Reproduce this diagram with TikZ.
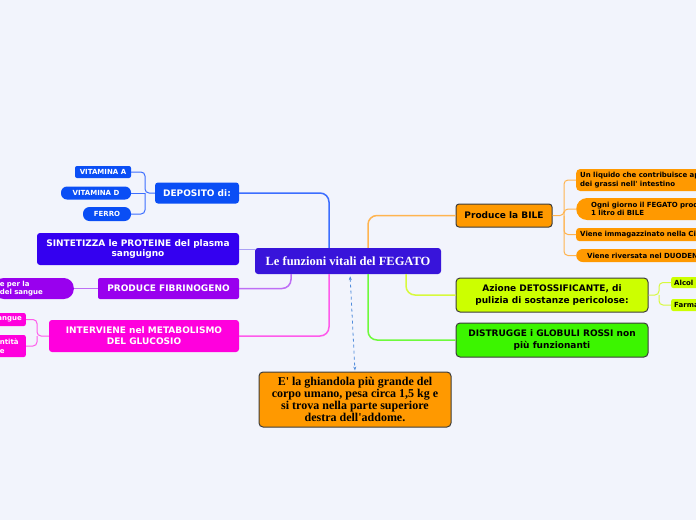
\documentclass[tikz,border=0pt]{standalone}
\usepackage{fontspec}
\usetikzlibrary{arrows.meta}
\newfontfamily\mapsans{DejaVu Sans}
\newfontfamily\mapserif{Liberation Serif}
\definecolor{bgpage}{RGB}{242,244,252}
\definecolor{rootblue}{RGB}{56,20,218}
\definecolor{depblue}{RGB}{10,78,245}
\definecolor{protviolet}{RGB}{52,0,240}
\definecolor{fibpurple}{RGB}{153,0,238}
\definecolor{glumag}{RGB}{255,0,221}
\definecolor{bileorange}{RGB}{255,153,0}
\definecolor{detoxlime}{RGB}{204,255,0}
\definecolor{cellgreen}{RGB}{60,245,0}
\definecolor{edgegray}{RGB}{60,60,60}
\definecolor{linkblue}{RGB}{60,110,255}
\definecolor{linkviolet}{RGB}{170,160,245}
\definecolor{linkpurple}{RGB}{190,110,245}
\definecolor{linkmagenta}{RGB}{255,90,235}
\definecolor{linkorange}{RGB}{255,180,80}
\definecolor{linklime}{RGB}{215,250,60}
\definecolor{linkgreen}{RGB}{110,250,60}
\definecolor{linkdash}{RGB}{80,140,220}
\begin{document}
\begin{tikzpicture}[x=1pt,y=-1pt,
  topic/.style={rounded corners=3pt, align=center, inner sep=2pt, font=\mapsans\bfseries\fontsize{9}{11}\selectfont},
  leaf/.style={rounded corners=2pt, inner sep=2pt, font=\mapsans\bfseries\fontsize{7}{8.5}\selectfont},
  framed/.style={draw=edgegray, line width=1pt},
  link/.style={line width=1.5pt, rounded corners=9pt},
  twig/.style={line width=1pt, rounded corners=4pt}]
\useasboundingbox (0,0) rectangle (696,520);
\clip (0,0) rectangle (696,520);
\fill[bgpage] (0,0) rectangle (696,520);
\node[topic, fill=rootblue, text=white, font=\mapserif\bfseries\fontsize{12.5}{14}\selectfont, minimum width=186pt, minimum height=26pt] (fegato) at (348,261) {Le funzioni vitali del FEGATO};
\node[topic, fill=depblue, text=white, minimum width=84pt, minimum height=21pt] (deposito) at (197,193) {DEPOSITO di:};
\node[leaf, fill=depblue, text=white, minimum width=56pt, minimum height=12pt] (vitA) at (103,172) {VITAMINA A};
\node[leaf, fill=depblue, text=white, rounded corners=6pt, minimum width=70pt, minimum height=13pt] (vitD) at (96,193) {VITAMINA D};
\node[leaf, fill=depblue, text=white, rounded corners=6.5pt, minimum width=48pt, minimum height=14pt] (ferro) at (107,214) {FERRO};
\node[topic, fill=protviolet, text=white, font=\mapsans\bfseries\fontsize{9}{10.5}\selectfont, minimum width=202pt, minimum height=32pt] (proteine) at (138,249) {SINTETIZZA le PROTEINE del plasma\\sanguigno};
\node[topic, fill=fibpurple, text=white, rounded corners=2pt, minimum width=141pt, minimum height=21pt] (fibrinogeno) at (168.5,288.5) {PRODUCE FIBRINOGENO};
\node[leaf, fill=fibpurple, text=white, rounded corners=10pt, anchor=east, align=left, text width=68pt, inner xsep=6pt, minimum height=21pt] (coagula) at (74,288.5) {e per la\\del sangue};
\node[topic, fill=glumag, text=white, minimum width=190pt, minimum height=32pt] (metabolismo) at (144,336) {INTERVIENE nel METABOLISMO\\DEL GLUCOSIO};
\node[leaf, fill=glumag, text=white, anchor=east, align=right, text width=40pt, inner xsep=4pt, minimum height=13pt] (sangue) at (26,319.5) {angue};
\node[leaf, fill=glumag, text=white, anchor=east, align=left, text width=22pt, inner xsep=4pt, minimum height=22pt] (quantita) at (26,346) {ntità\\e};
\node[topic, framed, fill=bileorange, text=black, minimum width=96pt, minimum height=23pt] (bile) at (504,215.5) {Produce la BILE};
\node[leaf, fill=bileorange, text=black, anchor=west, align=left, text width=150pt, inner xsep=4pt, rounded corners=4pt, minimum height=22pt] (liquido) at (576,180) {Un liquido che contribuisce ap\\dei grassi nell' intestino};
\node[leaf, fill=bileorange, text=black, anchor=west, align=left, text width=150pt, inner xsep=15pt, rounded corners=11pt, minimum height=22pt] (litro) at (576,209) {Ogni giorno il FEGATO prod\\1 litro di BILE};
\node[leaf, fill=bileorange, text=black, anchor=west, align=left, text width=150pt, inner xsep=4pt, rounded corners=3pt, minimum height=13pt] (cistifellea) at (576,234.5) {Viene immagazzinato nella Ci};
\node[leaf, fill=bileorange, text=black, anchor=west, align=left, text width=150pt, inner xsep=11pt, rounded corners=6.5pt, minimum height=13pt] (duodeno) at (576,255.5) {Viene riversata nel DUODEN};
\node[topic, framed, fill=detoxlime, text=black, rounded corners=4pt, font=\mapsans\bfseries\fontsize{9}{11.5}\selectfont, minimum width=192pt, minimum height=34pt] (detox) at (552,295) {Azione DETOSSIFICANTE, di\\pulizia di sostanze pericolose:};
\node[leaf, fill=detoxlime, text=black, anchor=west, align=left, text width=40pt, inner xsep=3pt, minimum height=11pt] (alcol) at (671,282.5) {Alcol};
\node[leaf, fill=detoxlime, text=black, anchor=west, align=left, text width=40pt, inner xsep=3pt, minimum height=12pt] (farmaci) at (671,305) {Farma};
\node[topic, framed, fill=cellgreen, text=black, rounded corners=4pt, font=\mapsans\bfseries\fontsize{9}{11.5}\selectfont, minimum width=192pt, minimum height=34pt] (globuli) at (552,340) {DISTRUGGE i GLOBULI ROSSI non\\più funzionanti};
\node[framed, fill=bileorange, rounded corners=4pt, align=center, font=\mapserif\bfseries\fontsize{12}{10.8}\selectfont, minimum width=192pt, minimum height=55pt] (nota) at (355,399.5) {E' la ghiandola più grande del\\corpo umano, pesa circa 1,5 kg e\\si trova nella parte superiore\\destra dell'addome.};
\draw[link, draw=linkblue] (deposito.east) -| ([xshift=-19pt]fegato.north);
\draw[twig, draw=linkviolet] (proteine.east) -- (proteine.east -| fegato.west);
\draw[link, draw=linkpurple] (fibrinogeno.east) -| ([xshift=-57pt]fegato.south);
\draw[link, draw=linkmagenta] (metabolismo.east) -| ([xshift=-19pt]fegato.south);
\draw[link, draw=linkorange] ([xshift=20pt]fegato.north) |- (bile.west);
\draw[link, draw=linklime] ([xshift=58pt]fegato.south) |- (detox.west);
\draw[link, draw=linkgreen] ([xshift=20pt]fegato.south) |- (globuli.west);
\draw[dashed, draw=linkdash, line width=0.8pt, {Stealth[length=4pt]}-{Stealth[length=4pt]}, shorten <=2pt, shorten >=1pt] ([xshift=2pt]fegato.south) -- (nota.north);
\coordinate (jvit) at (145,193);
\draw[twig, draw=linkblue] (deposito.west) -- (jvit) |- (vitA.east);
\draw[twig, draw=linkblue] (jvit) -- (vitD.east);
\draw[twig, draw=linkblue] (jvit) |- (ferro.east);
\draw[twig, draw=linkpurple] (fibrinogeno.west) -- (coagula.east);
\coordinate (jglu) at (37,336);
\draw[twig, draw=linkmagenta] (metabolismo.west) -- (jglu) |- (sangue.east);
\draw[twig, draw=linkmagenta] (jglu) |- (quantita.east);
\coordinate (jbile) at (564,215.5);
\draw[twig, draw=linkorange] (bile.east) -- (jbile) |- (liquido.west);
\draw[twig, draw=linkorange] (jbile) |- (litro.west);
\draw[twig, draw=linkorange] (jbile) |- (cistifellea.west);
\draw[twig, draw=linkorange] (jbile) |- (duodeno.west);
\coordinate (jdet) at (659,295);
\draw[twig, draw=linklime] (detox.east) -- (jdet) |- (alcol.west);
\draw[twig, draw=linklime] (jdet) |- (farmaci.west);
\end{tikzpicture}
\end{document}
